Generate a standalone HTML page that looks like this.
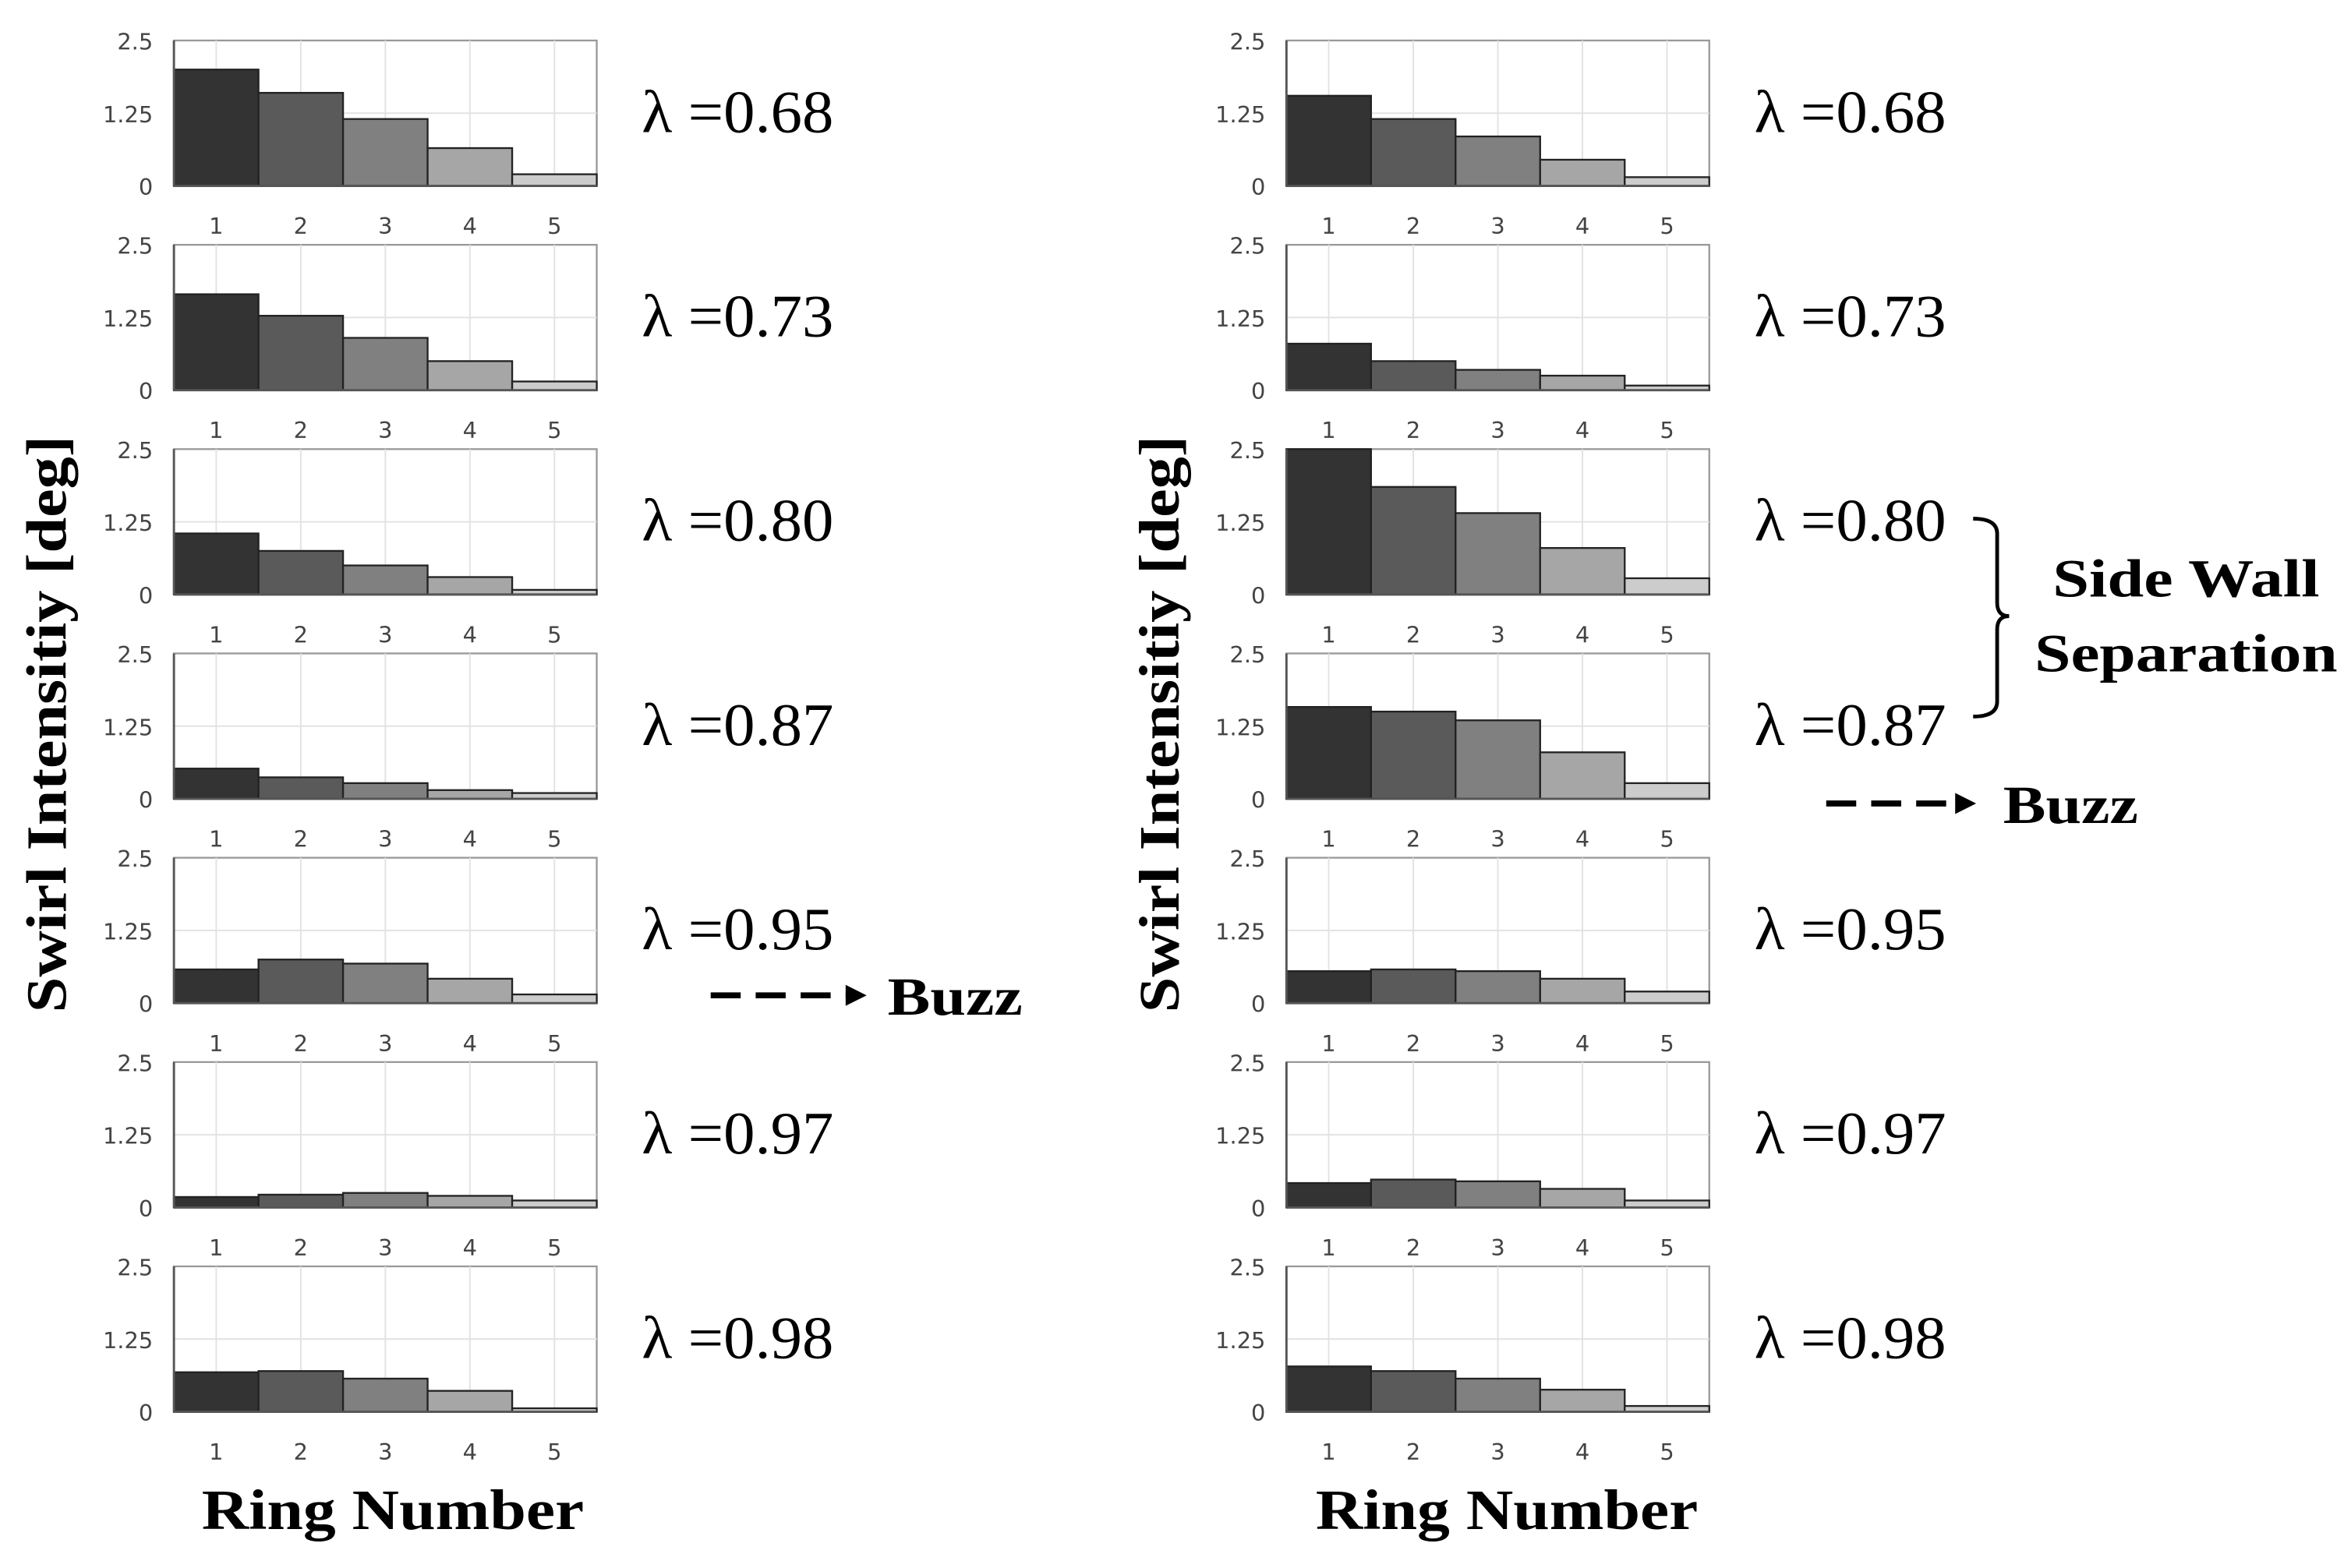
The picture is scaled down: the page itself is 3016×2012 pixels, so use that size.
<!DOCTYPE html>
<html><head><meta charset="utf-8"><style>html,body{margin:0;padding:0;background:#fff}svg{display:block}</style></head>
<body>
<svg id="fig" xmlns="http://www.w3.org/2000/svg" width="3016" height="2012" viewBox="0 0 1568 1046">
<rect width="1568" height="1046" fill="#fff"/>
<g id="plots"></g>
<text transform="translate(44,483) rotate(-90)" text-anchor="middle" font-family="Liberation Serif, serif" font-weight="bold" font-size="38" textLength="385" lengthAdjust="spacingAndGlyphs">Swirl Intensitiy [deg]</text>
<text transform="translate(786,483) rotate(-90)" text-anchor="middle" font-family="Liberation Serif, serif" font-weight="bold" font-size="38" textLength="385" lengthAdjust="spacingAndGlyphs">Swirl Intensitiy [deg]</text>
<text x="262" y="1020" text-anchor="middle" font-family="Liberation Serif, serif" font-weight="bold" font-size="38" textLength="255" lengthAdjust="spacingAndGlyphs">Ring Number</text>
<text x="1005" y="1020" text-anchor="middle" font-family="Liberation Serif, serif" font-weight="bold" font-size="38" textLength="255" lengthAdjust="spacingAndGlyphs">Ring Number</text>
<g>
<line x1="474" y1="664" x2="566" y2="664" stroke="#000" stroke-width="4" stroke-dasharray="20,10"/>
<polygon points="564,657 578,664 564,671" fill="#000"/>
<text x="592" y="677" font-family="Liberation Serif, serif" font-weight="bold" font-size="36" textLength="90" lengthAdjust="spacingAndGlyphs">Buzz</text>
</g>
<g>
<line x1="1218" y1="536" x2="1306" y2="536" stroke="#000" stroke-width="4" stroke-dasharray="20,10"/>
<polygon points="1304,529 1318,536 1304,543" fill="#000"/>
<text x="1336" y="549" font-family="Liberation Serif, serif" font-weight="bold" font-size="36" textLength="90" lengthAdjust="spacingAndGlyphs">Buzz</text>
</g>
<g>
<path d="M1316,346 Q1332,346 1332,356 L1332,402 Q1332,411 1340,411 Q1332,411 1332,420 L1332,468 Q1332,478 1316,478" fill="none" stroke="#000" stroke-width="2.5"/>
<text x="1458" y="398" text-anchor="middle" font-family="Liberation Serif, serif" font-weight="bold" font-size="36" textLength="178" lengthAdjust="spacingAndGlyphs">Side Wall</text>
<text x="1458" y="448" text-anchor="middle" font-family="Liberation Serif, serif" font-weight="bold" font-size="36" textLength="202" lengthAdjust="spacingAndGlyphs">Separation</text>
</g>
</svg>
<script>
const rings = [1, 2, 3, 4, 5];
const yTicks = [0, 1.25, 2.5];
const yTickLabels = ["0", "1.25", "2.5"];
const lambdas = ["0.68", "0.73", "0.80", "0.87", "0.95", "0.97", "0.98"];
const leftValues = [
  [2.0, 1.6, 1.15, 0.65, 0.2],
  [1.65, 1.28, 0.9, 0.5, 0.15],
  [1.05, 0.75, 0.5, 0.3, 0.08],
  [0.52, 0.37, 0.27, 0.15, 0.1],
  [0.58, 0.75, 0.68, 0.42, 0.15],
  [0.18, 0.22, 0.25, 0.2, 0.12],
  [0.68, 0.7, 0.57, 0.36, 0.06]
];
const rightValues = [
  [1.55, 1.15, 0.85, 0.45, 0.15],
  [0.8, 0.5, 0.35, 0.25, 0.08],
  [2.5, 1.85, 1.4, 0.8, 0.28],
  [1.58, 1.5, 1.35, 0.8, 0.27],
  [0.55, 0.58, 0.55, 0.42, 0.2],
  [0.42, 0.48, 0.45, 0.32, 0.12],
  [0.78, 0.7, 0.57, 0.38, 0.1]
];
const barColors = ["#333333", "#5a5a5a", "#808080", "#a6a6a6", "#cccccc"];
const NS = "http://www.w3.org/2000/svg";
const root = document.getElementById("plots");
function mk(tag, attrs, parent) {
  const e = document.createElementNS(NS, tag);
  for (const k in attrs) e.setAttribute(k, attrs[k]);
  parent.appendChild(e);
  return e;
}
function panel(side, idx, x0, values) {
  const top = 27 + idx * 136.3, h = 97, w = 282;
  const xs = v => x0 + (v - 0.5) / 5 * w;
  const ys = v => top + h - v / 2.5 * h;
  const g = mk("g", {}, root);
  
  
  mk("rect", {x: x0, y: top, width: w, height: h, fill: "#fff", stroke: "#999", "stroke-width": 1.2}, g);
  rings.forEach(r => mk("line", {x1: xs(r), x2: xs(r), y1: top, y2: top + h, stroke: "#e2e2e2", "stroke-width": 1}, g));
  mk("line", {x1: x0, x2: x0 + w, y1: ys(1.25), y2: ys(1.25), stroke: "#e2e2e2", "stroke-width": 1}, g);
  values.forEach((v, i) => {
    const b = mk("rect", {x: xs(rings[i] - 0.5), y: ys(v), width: xs(rings[i] + 0.5) - xs(rings[i] - 0.5), height: ys(0) - ys(v), fill: barColors[i], stroke: "#222", "stroke-width": 1.2}, g);
    
    
  });
  mk("line", {x1: x0, x2: x0 + w, y1: top + h, y2: top + h, stroke: "#555", "stroke-width": 1.5}, g);
  mk("line", {x1: x0, x2: x0, y1: top, y2: top + h, stroke: "#555", "stroke-width": 1.5}, g);
  yTicks.forEach((t, i) => {
    const tl = mk("text", {x: x0 - 14, y: ys(t) + 6, "text-anchor": "end", "font-family": "DejaVu Sans, sans-serif", "font-size": 15, fill: "#444"}, g);
    tl.textContent = yTickLabels[i];
    
    
  });
  rings.forEach(r => {
    const tl = mk("text", {x: xs(r), y: top + h + 32, "text-anchor": "middle", "font-family": "DejaVu Sans, sans-serif", "font-size": 15, fill: "#444"}, g);
    tl.textContent = String(r);
    
    
  });
  const lt = mk("text", {x: x0 + 312, y: top + 61, "font-family": "Liberation Serif, serif", "font-size": 40, fill: "#000", textLength: 128, lengthAdjust: "spacingAndGlyphs"}, g);
  lt.textContent = "\u03bb =" + lambdas[idx];
  
  
}
leftValues.forEach((v, i) => panel("left", i, 116, v));
rightValues.forEach((v, i) => panel("right", i, 858, v));
</script>
</body></html>
